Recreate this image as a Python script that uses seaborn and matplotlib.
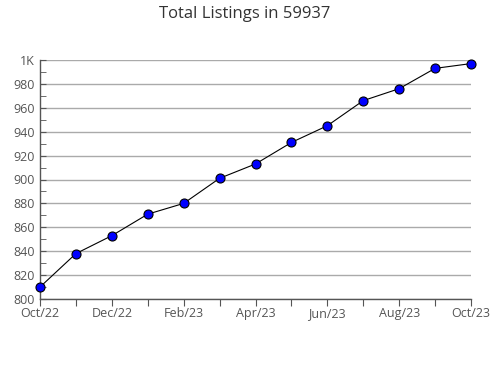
import matplotlib
matplotlib.use("Agg")
import matplotlib.pyplot as plt
import seaborn as sns
import pandas as pd
from matplotlib.ticker import MultipleLocator, FuncFormatter

months = ["Oct/22", "Nov/22", "Dec/22", "Jan/23", "Feb/23", "Mar/23", "Apr/23",
          "May/23", "Jun/23", "Jul/23", "Aug/23", "Sep/23", "Oct/23"]
listings = [810, 838, 853, 871, 880, 901, 913, 931, 945, 966, 976, 993, 997]

df = pd.DataFrame({"idx": range(len(months)), "listings": listings})

sns.set_style("white")
plt.rcParams['font.family'] = ['Open Sans', 'DejaVu Sans']

fig = plt.figure(figsize=(4.9, 3.8), dpi=100)
ax = fig.add_axes([40/490, 1-299/380, (471-40)/490, (299-60)/380])

sns.lineplot(data=df, x="idx", y="listings", ax=ax, color="black", linewidth=0.8,
             marker="o", markersize=6.5, markerfacecolor="#0000ff",
             markeredgecolor="black", markeredgewidth=0.8, zorder=3, clip_on=False)

ax.set_xlim(0, len(months) - 1)
ax.set_ylim(800, 1000)
ax.set_xticks(range(len(months)))
ax.set_xticklabels([m if i % 2 == 0 else "" for i, m in enumerate(months)])
ax.yaxis.set_major_locator(MultipleLocator(20))
ax.yaxis.set_minor_locator(MultipleLocator(10))
ax.yaxis.set_major_formatter(FuncFormatter(lambda v, p: "1K" if v >= 1000 else f"{int(v)}"))
ax.set_xlabel("")
ax.set_ylabel("")

ax.grid(axis="y", color="#aaaaaa", linewidth=1)
ax.grid(axis="x", visible=False)
for s in ["top", "right"]:
    ax.spines[s].set_visible(False)
for s in ["left", "bottom"]:
    ax.spines[s].set_color("#555555")
    ax.spines[s].set_linewidth(1)

ax.tick_params(axis="x", which="major", direction="out", length=5, color="#555555",
               labelsize=9, labelcolor="#555555", pad=1, bottom=True)
ax.tick_params(axis="y", which="both", direction="in", length=4, color="#555555",
               labelsize=9, labelcolor="#555555", pad=4, left=True)

fig.suptitle("Total Listings in 59937", x=0.5, y=0.985, fontsize=12, color="#333333")

fig.savefig("out.png", dpi=100)
